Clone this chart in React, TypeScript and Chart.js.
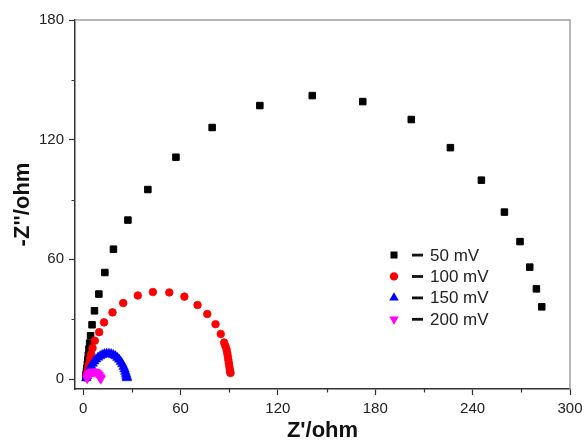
import React, { useEffect, useRef } from "react";
import { Chart, registerables } from "chart.js";

Chart.register(...registerables);

const SERIES_LABELS = ["50 mV", "100 mV", "150 mV", "200 mV"];
const SERIES_COLORS = ["#000000", "#ff0000", "#0000ff", "#ff00ff"];

const X_50 = [1.6, 1.7, 1.9, 2.1, 2.3, 2.6, 2.9, 3.2, 3.6, 4.0, 4.6, 5.5, 7.0, 9.7, 13.4, 18.7, 27.6, 39.9, 57.2, 79.5, 108.9, 141.2, 172.3, 202.2, 226.3, 245.4, 259.6, 269.2, 275.2, 279.3, 282.6];
const Y_50 = [0.8, 1.5, 2.5, 3.8, 5.4, 7.3, 9.5, 12, 15, 18, 21.7, 27.2, 34.2, 42.6, 53.4, 65.1, 79.7, 95.0, 111.2, 126.1, 137.1, 142.1, 139.1, 130.1, 116.0, 99.7, 83.7, 68.9, 56.1, 45.2, 36.2];

const X_100 = [2.2, 2.3, 2.5, 2.7, 3.0, 3.3, 3.7, 4.2, 4.9, 5.8, 7.2, 9.9, 12.9, 18.1, 24.7, 33.7, 43.0, 53.1, 62.4, 70.5, 76.5, 81.6, 84.8, 86.9, 87.7, 88.4, 88.8, 89.2, 89.5, 89.8, 90.1, 90.4, 90.6, 90.8];
const Y_100 = [0.8, 1.4, 2.2, 3.2, 4.5, 6.0, 7.8, 10.0, 12.5, 15.5, 19.2, 23.5, 28.4, 33.4, 38.1, 41.9, 43.6, 43.4, 41.3, 37.1, 32.6, 27.5, 22.6, 18.3, 16.5, 14.7, 13.0, 11.3, 9.6, 8.0, 6.3, 4.7, 3.8, 3.0];

const X_150 = [2.0, 2.4, 2.9, 3.5, 4.2, 5.0, 5.9, 6.9, 8.0, 9.2, 10.5, 11.8, 13.1, 14.5, 15.9, 17.3, 18.6, 19.9, 21.1, 22.2, 23.2, 24.1, 24.9, 25.5, 26.0, 26.4, 26.7, 26.9, 27.0];
const Y_150 = [0.5, 1.5, 2.7, 4.0, 5.3, 6.6, 7.8, 8.9, 9.9, 10.8, 11.5, 12.1, 12.5, 12.7, 12.7, 12.5, 12.1, 11.5, 10.7, 9.8, 8.7, 7.5, 6.2, 4.9, 3.7, 2.6, 1.7, 1.0, 0.5];

const X_200 = [2.5, 2.8, 3.3, 3.9, 4.6, 5.4, 6.3, 7.2, 8.1, 8.9, 9.6, 10.2, 10.6, 10.9];
const Y_200 = [0.3, 1.2, 2.1, 2.8, 3.3, 3.6, 3.7, 3.6, 3.3, 2.8, 2.1, 1.3, 0.6, 0.1];

const X_TICKS = [0, 60, 120, 180, 240, 300];
const X_MINOR = [30, 90, 150, 210, 270];
const Y_TICKS = [0, 60, 120, 180];
const Y_MINOR = [30, 90, 150];

const FONT = "'Liberation Sans', Arial, Helvetica, sans-serif";

const toPoints = (xs: number[], ys: number[]) => xs.map((x, i) => ({ x, y: ys[i] }));

function drawMarker(ctx: CanvasRenderingContext2D, style: string, rot: number, cx: number, cy: number, color: string) {
  ctx.fillStyle = color;
  ctx.beginPath();
  if (style === "rect") {
    ctx.rect(cx - 3.5, cy - 3.5, 7, 7);
  } else if (style === "circle") {
    ctx.arc(cx, cy, 4.2, 0, Math.PI * 2);
  } else {
    const r = 5.5;
    const sign = rot === 180 ? -1 : 1;
    ctx.moveTo(cx, cy - sign * r);
    ctx.lineTo(cx + r * 0.866, cy + sign * r * 0.5);
    ctx.lineTo(cx - r * 0.866, cy + sign * r * 0.5);
    ctx.closePath();
  }
  ctx.fill();
}

const decorPlugin = {
  id: "decor",
  afterDraw(chart: any) {
    const { ctx, chartArea } = chart;
    const { left, right, top, bottom } = chartArea;
    const xs = chart.scales.x;
    const ys = chart.scales.y;
    ctx.save();
    // top & right frame
    ctx.strokeStyle = "#a0a0a0";
    ctx.lineWidth = 1.5;
    ctx.beginPath();
    ctx.moveTo(left, top);
    ctx.lineTo(right, top);
    ctx.lineTo(right, bottom);
    ctx.stroke();
    // minor ticks
    ctx.strokeStyle = "#333333";
    ctx.lineWidth = 1.2;
    ctx.beginPath();
    X_MINOR.forEach((v) => {
      const px = Math.round(xs.getPixelForValue(v)) + 0.5;
      ctx.moveTo(px, bottom);
      ctx.lineTo(px, bottom + 3.5);
    });
    Y_MINOR.forEach((v) => {
      const py = Math.round(ys.getPixelForValue(v)) + 0.5;
      ctx.moveTo(left, py);
      ctx.lineTo(left - 3.5, py);
    });
    ctx.stroke();
    // legend
    const lx = 394;
    const ly0 = 255;
    const step = 21.4;
    ctx.font = `17px ${FONT}`;
    ctx.textBaseline = "middle";
    ctx.textAlign = "left";
    chart.data.datasets.forEach((ds: any, i: number) => {
      const cy = ly0 + i * step;
      drawMarker(ctx, ds.pointStyle, ds.rotation || 0, lx, cy, ds.backgroundColor);
      ctx.fillStyle = "#111111";
      ctx.fillRect(412, cy - 1.3, 11, 2.8);
      ctx.fillStyle = "#222222";
      ctx.fillText(ds.label, 430, cy + 1);
    });
    ctx.restore();
  },
};

export default function App() {
  const ref = useRef<HTMLCanvasElement | null>(null);

  useEffect(() => {
    if (!ref.current) return;
    const tickFont = { family: FONT, size: 15 };
    const chart = new Chart(ref.current, {
      type: "scatter",
      data: {
        datasets: [
          {
            label: SERIES_LABELS[0],
            data: toPoints(X_50, Y_50),
            pointStyle: "rect",
            pointRadius: 4.6,
            borderWidth: 1,
            backgroundColor: SERIES_COLORS[0],
            borderColor: SERIES_COLORS[0],
            order: 4,
          },
          {
            label: SERIES_LABELS[1],
            data: toPoints(X_100, Y_100),
            pointStyle: "circle",
            pointRadius: 3.8,
            borderWidth: 0.8,
            backgroundColor: SERIES_COLORS[1],
            borderColor: SERIES_COLORS[1],
            order: 3,
          },
          {
            label: SERIES_LABELS[2],
            data: toPoints(X_150, Y_150),
            pointStyle: "triangle",
            pointRadius: 5.5,
            borderWidth: 0.5,
            backgroundColor: SERIES_COLORS[2],
            borderColor: SERIES_COLORS[2],
            order: 2,
          },
          {
            label: SERIES_LABELS[3],
            data: toPoints(X_200, Y_200),
            pointStyle: "triangle",
            rotation: 180,
            pointRadius: 5.5,
            borderWidth: 0.5,
            backgroundColor: SERIES_COLORS[3],
            borderColor: SERIES_COLORS[3],
            order: 1,
          } as any,
        ],
      },
      options: {
        animation: false,
        responsive: false,
        layout: { padding: { left: 0, right: 16, top: 20, bottom: 0 } },
        plugins: {
          legend: { display: false },
          tooltip: { enabled: false },
        },
        scales: {
          x: {
            type: "linear",
            min: -5,
            max: 300,
            afterBuildTicks: (s: any) => {
              s.ticks = X_TICKS.map((v) => ({ value: v }));
            },
            afterFit: (s: any) => {
              s.height = 53;
              s.paddingLeft = 0;
              s.paddingRight = 0;
            },
            grid: {
              display: true,
              drawOnChartArea: false,
              drawTicks: true,
              tickLength: 6,
              tickColor: "#333333",
              tickWidth: 1.2,
            },
            border: { display: true, color: "#333333", width: 1.5 },
            ticks: {
              font: tickFont,
              color: "#222222",
              padding: 5,
              maxRotation: 0,
              callback: (v: any) => String(v),
            },
            title: {
              display: true,
              text: "Z'/ohm",
              font: { family: FONT, size: 22, weight: "bold" },
              color: "#111111",
              padding: { top: 0, bottom: -2 },
            },
          },
          y: {
            type: "linear",
            min: -5,
            max: 180,
            afterBuildTicks: (s: any) => {
              s.ticks = Y_TICKS.map((v) => ({ value: v }));
            },
            afterFit: (s: any) => {
              s.width = 75;
              s.paddingTop = 0;
              s.paddingBottom = 0;
            },
            grid: {
              display: true,
              drawOnChartArea: false,
              drawTicks: true,
              tickLength: 6,
              tickColor: "#333333",
              tickWidth: 1.2,
            },
            border: { display: true, color: "#333333", width: 1.5 },
            ticks: {
              font: tickFont,
              color: "#222222",
              padding: 5,
              callback: (v: any) => String(v),
            },
            title: {
              display: true,
              text: "-Z''/ohm",
              font: { family: FONT, size: 22, weight: "bold" },
              color: "#111111",
              padding: { top: 10, bottom: 0 },
            },
          },
        },
      },
      plugins: [decorPlugin],
    });
    return () => chart.destroy();
  }, []);

  return (
    <div style={{ position: "fixed", left: 0, top: 0, width: 586, height: 442, background: "#ffffff" }}>
      <canvas ref={ref} width={586} height={442} style={{ display: "block", width: 586, height: 442 }} />
    </div>
  );
}
